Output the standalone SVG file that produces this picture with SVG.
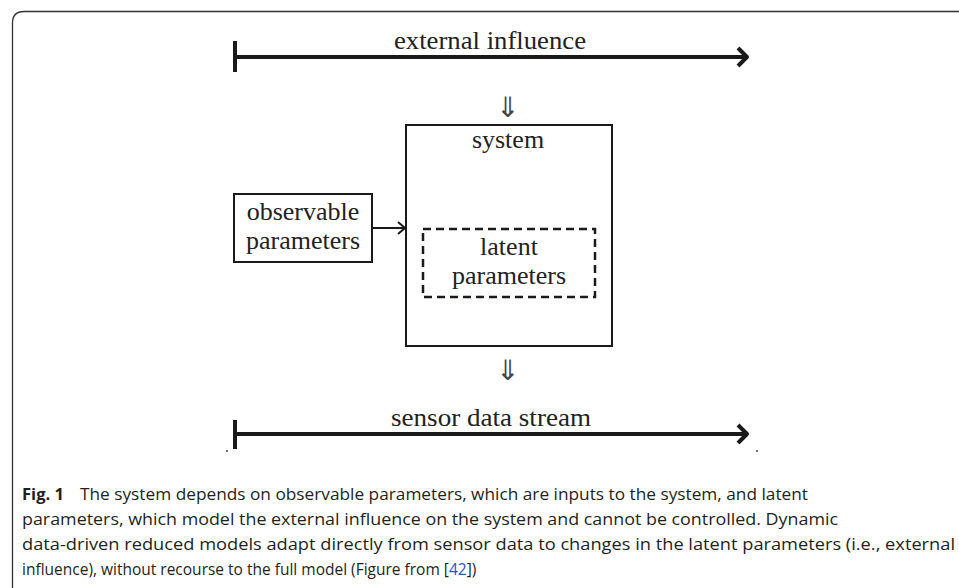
<svg xmlns="http://www.w3.org/2000/svg" width="959" height="588" viewBox="0 0 959 588">
<style>
.lbl{font-family:"Liberation Serif","DejaVu Serif",serif;font-size:26px;fill:#222;text-anchor:middle}
.sym{font-family:"DejaVu Sans","Liberation Sans",sans-serif;font-size:28px;fill:#444;text-anchor:middle}
.box{fill:#fff;stroke:#1a1a1a;stroke-width:2}
.dash{fill:none;stroke:#1a1a1a;stroke-width:2.5;stroke-dasharray:8 5}
.thick{fill:none;stroke:#1a1a1a;stroke-width:4;stroke-linecap:butt;stroke-linejoin:round}
.thin{fill:none;stroke:#1a1a1a;stroke-width:2}
.cap{font-family:"Open Sans","Noto Sans","Liberation Sans",sans-serif;font-size:15.5px;fill:#231f20}
.ref{fill:#2a55c8}
</style>
<rect width="959" height="588" fill="#fff"/>
<path d="M12.5,588 V23 Q12.5,11.5 24,11.5 H959" fill="none" stroke="#333" stroke-width="1.3"/>

<g id="external-influence">
  <line class="thick" x1="235" y1="41" x2="235" y2="72"/>
  <line class="thick" x1="235" y1="57" x2="746" y2="57"/>
  <polyline class="thick" points="738,48 747,57 738,66" stroke-linecap="round"/>
  <text class="lbl" x="490" y="49" textLength="192" lengthAdjust="spacingAndGlyphs">external influence</text>
</g>

<g id="system">
  <rect class="box" x="406" y="125" width="206" height="221"/>
  <text class="lbl" x="508" y="148">system</text>
</g>

<g id="observable-parameters">
  <rect class="box" x="234" y="194" width="138" height="68"/>
  <text class="lbl" x="303" y="220">observable</text>
  <text class="lbl" x="303" y="249">parameters</text>
</g>

<g id="latent-parameters">
  <rect class="dash" x="423" y="229" width="172" height="68"/>
  <text class="lbl" x="509" y="255">latent</text>
  <text class="lbl" x="509" y="284">parameters</text>
</g>

<g id="sensor-data-stream">
  <line class="thick" x1="235" y1="420" x2="235" y2="449"/>
  <line class="thick" x1="235" y1="434" x2="746" y2="434"/>
  <polyline class="thick" points="738,425 747,434 738,443" stroke-linecap="round"/>
  <text class="lbl" x="491" y="426" textLength="200" lengthAdjust="spacingAndGlyphs">sensor data stream</text>
  <circle cx="227" cy="451" r="0.9" fill="#333"/>
  <circle cx="757" cy="451" r="0.9" fill="#333"/>
</g>

<g id="connectors">
  <line class="thin" x1="372" y1="228" x2="404" y2="228"/>
  <polyline class="thin" points="398,222 405,228 398,234" stroke-linejoin="round"/>
  <text class="sym" x="508" y="117">⇓</text>
  <text class="sym" x="508" y="380">⇓</text>
</g>

<g id="caption">
  <text class="cap" x="22" y="500" font-weight="bold" textLength="42" lengthAdjust="spacingAndGlyphs">Fig. 1</text>
  <text class="cap" x="80" y="500" textLength="728" lengthAdjust="spacingAndGlyphs">The system depends on observable parameters, which are inputs to the system, and latent</text>
  <text class="cap" x="22" y="525" textLength="816" lengthAdjust="spacingAndGlyphs">parameters, which model the external influence on the system and cannot be controlled. Dynamic</text>
  <text class="cap" x="22" y="550" textLength="933" lengthAdjust="spacingAndGlyphs">data-driven reduced models adapt directly from sensor data to changes in the latent parameters (i.e., external</text>
  <text class="cap" x="22" y="575" font-size="14.3">influence), without recourse to the full model (Figure from [<tspan class="ref">42</tspan>])</text>
</g>
</svg>
